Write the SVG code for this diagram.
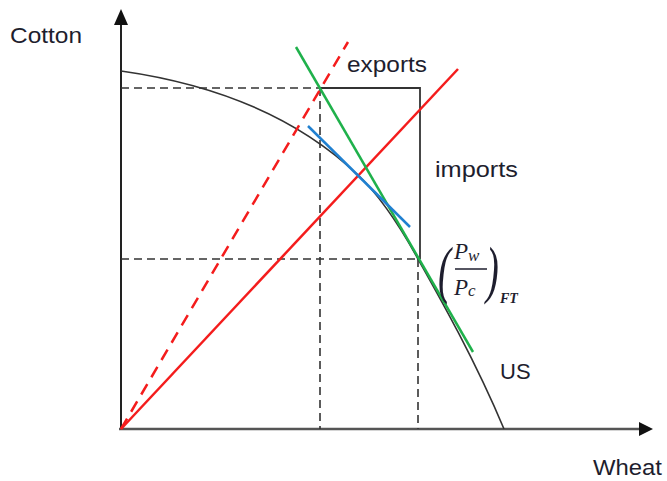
<svg xmlns="http://www.w3.org/2000/svg" width="667" height="481" viewBox="0 0 667 481">
<style>
.lbl{font-family:"Liberation Sans",Arial,sans-serif;font-size:22px;fill:#1e1e2e}
.math{font-family:"Liberation Serif","Times New Roman",serif;font-style:italic;fill:#1e1e2e}
.dash{stroke:#333;stroke-width:1.6;stroke-dasharray:8 5;fill:none}
</style>
<rect width="667" height="481" fill="#fff"/>
<g id="axes">
<line x1="121" y1="430" x2="121" y2="12" stroke="#222" stroke-width="2"/>
<path d="M121,9 L114,25 L128,25 z" fill="#111"/>
<line x1="119" y1="429" x2="640" y2="429" stroke="#555" stroke-width="2.5"/>
<path d="M653,429 L639,422 L639,436 z" fill="#111"/>
</g>
<g id="connectors">
<line class="dash" x1="121" y1="88" x2="320" y2="88"/>
<line class="dash" x1="320" y1="88" x2="320" y2="429"/>
<line class="dash" x1="121" y1="259" x2="418" y2="259"/>
<line class="dash" x1="418" y1="259" x2="418" y2="429"/>
<path d="M320,88 H420 V259" fill="none" stroke="#333" stroke-width="1.8"/>
</g>
<g id="ppf">
<path d="M121,71 C220,85 300,120 358,175 C380,196 402,230 418,259 C440,298 475,360 504,429" fill="none" stroke="#333" stroke-width="1.6"/>
</g>
<g id="rays">
<line x1="121" y1="429" x2="348" y2="42" stroke="#f41c1c" stroke-width="2.5" stroke-dasharray="12 8"/>
<line x1="121" y1="429" x2="458" y2="69" stroke="#f41c1c" stroke-width="2.5"/>
</g>
<g id="tangents">
<line x1="296" y1="47" x2="473" y2="352" stroke="#1fb14b" stroke-width="2.5"/>
<line x1="308" y1="126" x2="410" y2="227" stroke="#2080d0" stroke-width="2.5"/>
</g>
<g id="labels">
<text class="lbl" x="10" y="43" textLength="72" lengthAdjust="spacingAndGlyphs">Cotton</text>
<text class="lbl" x="347" y="72" textLength="80" lengthAdjust="spacingAndGlyphs">exports</text>
<text class="lbl" x="435" y="177" textLength="83" lengthAdjust="spacingAndGlyphs">imports</text>
<text class="lbl" x="500" y="379">US</text>
<text class="lbl" x="593" y="475" textLength="69" lengthAdjust="spacingAndGlyphs">Wheat</text>
</g>
<g id="price-ratio">
<text class="math" font-style="normal" x="438" y="291" font-size="64" transform="translate(438,0) scale(0.6,1) translate(-438,0)">(</text>
<text class="math" font-style="normal" x="486" y="291" font-size="64" transform="translate(486,0) scale(0.6,1) translate(-486,0)">)</text>
<text class="math" x="454" y="259" font-size="23">P<tspan font-size="17" dy="2">w</tspan></text>
<line x1="455" y1="269" x2="487" y2="269" stroke="#1e1e2e" stroke-width="1.5"/>
<text class="math" x="454" y="295" font-size="23">P<tspan font-size="17" dy="1">c</tspan></text>
<text class="math" x="500" y="303" font-size="14" font-weight="bold">FT</text>
</g>
</svg>
